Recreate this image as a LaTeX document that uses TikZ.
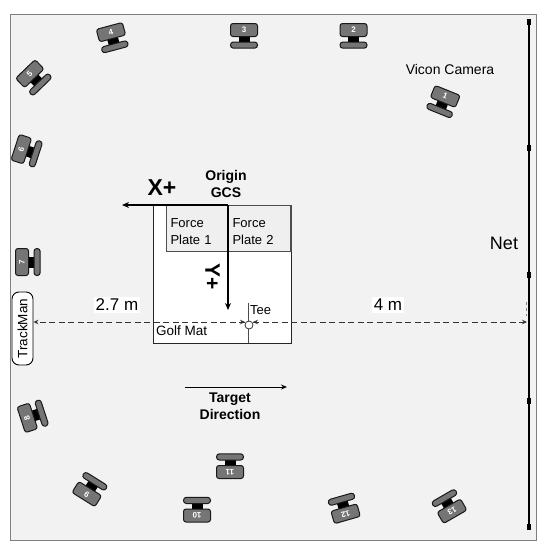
\documentclass[tikz,border=0pt]{standalone}
\usepackage{fontspec}
\usepackage{xcolor}
\setmainfont{Liberation Sans}
\usetikzlibrary{arrows.meta, positioning, calc}
\definecolor{roombg}{HTML}{F2F2F2}
\definecolor{roomborder}{HTML}{7F7F7F}
\definecolor{platebg}{HTML}{EFEFEF}
\definecolor{platebord}{HTML}{4D4D4D}
\definecolor{cambody}{HTML}{757575}
\definecolor{dashcol}{HTML}{333333}
\tikzset{
    roombox/.style={rectangle, fill=roombg, draw=roomborder, line width=1.2pt, inner sep=0pt},
    matbox/.style={rectangle, fill=white, draw=black!85, line width=1.1pt, inner sep=0pt},
    platebox/.style={rectangle, fill=platebg, draw=platebord, line width=1pt, anchor=north west, minimum width=62pt, minimum height=46pt, text width=54pt, inner xsep=4pt, inner ysep=0pt, align=left, font=\fontsize{13}{17}\selectfont},
    plainlabel/.style={inner sep=0pt, font=\fontsize{13.5}{15}\selectfont},
    boldlabel/.style={inner sep=0pt, align=center, font=\fontsize{14}{17}\selectfont\bfseries},
    distlabel/.style={fill=white, inner sep=2pt, font=\fontsize{17}{19}\selectfont},
    axisarrow/.style={-{Stealth[length=7pt, width=6pt]}, black, line width=1.5pt},
    dimarrow/.style={-{Stealth[length=5pt, width=4.5pt]}, dashcol, line width=1pt, dash pattern=on 6pt off 3.5pt},
    netline/.style={black, line width=2pt},
    netknot/.style={rectangle, fill=black, inner sep=0pt, minimum width=4pt, minimum height=5.5pt},
    campart/.style={rounded corners=2.5pt, fill=cambody, draw=black!90, line width=1pt},
    camnum/.style={text=white, inner sep=0pt, font=\fontsize{8}{8}\selectfont\bfseries, transform shape},
}
\begin{document}
\begin{tikzpicture}[x=1pt, y=1pt]
\useasboundingbox (0,-550) rectangle (546,0);
\node[roombox, anchor=north west, minimum width=526pt, minimum height=526pt] (room) at (10,-14) {};
% cameras, x/y/turn/number
\foreach \cx/\cy/\cturn/\cnum in {443/102/-22/1, 353.5/36/0/2, 244/36/0/3, 112.5/38/15/4, 34/78/44/5, 27/151/72/6, 28/262/90/7, 33/416/108/8, 90/489/148/9, 197/509.5/180/10, 230/466/180/11, 344/508/196/12, 449/506/210/13}{
    \begin{scope}[shift={(\cx,-\cy)}, rotate=\cturn]
        \fill[black] (-5.5,-6.5) rectangle (5.5,0);
        \draw[campart] (-13.5,-0.5) rectangle (13.5,12.5);
        \draw[campart, rounded corners=2.9pt] (-13.5,-12.2) rectangle (13.5,-6);
        \node[camnum] (cam\cnum) at (0,6.2) {\cnum};
    \end{scope}
}
% golf mat and plates
\node[matbox, anchor=north west, minimum width=138pt, minimum height=138pt] (mat) at (153,-205) {};
\node[platebox] (plate1) at (166,-205) {\rule{0pt}{15pt}Force\\Plate 1};
\node[platebox] (plate2) at (228,-205) {\rule{0pt}{15pt}Force\\Plate 2};
\draw[platebord, line width=2pt] (plate2.north east) -- (plate2.south east);
\node[plainlabel, anchor=west] (matlabel) at (156,-331) {Golf Mat};
% net
\coordinate (nettop) at (529,-20);
\coordinate (netbot) at (529,-530);
\draw[netline] (nettop) -- (netbot);
\foreach \ny in {22, 148, 275, 401, 527}{
    \node[netknot] (knot\ny) at (529,-\ny) {};
}
\node[inner sep=0pt, font=\fontsize{18}{20}\selectfont] (netlabel) at (504,-243) {Net};
% tee and distances
\node[rectangle, rounded corners=7pt, fill=white, draw=black, line width=0.9pt, inner sep=0pt, minimum width=21pt, minimum height=73pt] (trackman) at (22.5,-328.5) {};
\node[inner sep=0pt, rotate=90, font=\fontsize{13.5}{15}\selectfont] (tracklabel) at (trackman.center) {TrackMan};
\coordinate (teetop) at (248,-303);
\coordinate (teebot) at (248,-343);
\draw[black!70, line width=0.8pt] (teetop) -- (teebot);
\node[circle, fill=white, draw=black!80, line width=0.8pt, inner sep=0pt, minimum size=8pt] (tee) at (249,-325) {};
\node[inner sep=0pt, anchor=west, font=\fontsize{13}{15}\selectfont] (teelabel) at (250,-310) {Tee};
\coordinate (netend) at (527,-322);
\coordinate (teeleft) at (245,-322);
\coordinate (teeright) at (253,-322);
\draw[dimarrow] (teeright) -- (netend);
\draw[dimarrow] (teeleft) -- (trackman.east |- teeleft);
\draw[dimarrow, solid] ($(teeleft)+(-6,0)$) -- (teeleft);
\draw[dimarrow, solid] ($(teeright)+(6,0)$) -- (teeright);
\draw[dashcol!60, line width=0.7pt, dashed] (526,-302) -- (526,-316);
\node[distlabel] (dist1) at (117,-305) {2.7 m};
\node[distlabel] (dist2) at (388,-305) {4 m};
% axes
\coordinate (origin) at (228,-205);
\coordinate (xtip) at (122,-205);
\coordinate (ytip) at (228,-310);
\draw[axisarrow] (origin) -- (xtip);
\draw[axisarrow] (origin) -- (ytip);
\node[inner sep=0pt, font=\fontsize{23}{25}\selectfont\bfseries] (xlabel) at (162,-188) {X+};
\node[inner sep=0pt, rotate=-90, font=\fontsize{21}{23}\selectfont\bfseries] (ylabel) at (212.5,-277) {Y+};
\node[boldlabel] (originlabel) at (226,-184) {Origin\\GCS};
% target direction
\coordinate (tgtstart) at (185,-387);
\coordinate (tgtend) at (287,-387);
\draw[-{Stealth[length=6pt, width=5pt]}, black, line width=1pt] (tgtstart) -- (tgtend);
\node[boldlabel] (tgtlabel) at (230,-406.5) {Target\\Direction};
\node[inner sep=0pt, font=\fontsize{14}{16}\selectfont] (viconlabel) at (450,-69) {Vicon Camera};
\end{tikzpicture}
\end{document}
